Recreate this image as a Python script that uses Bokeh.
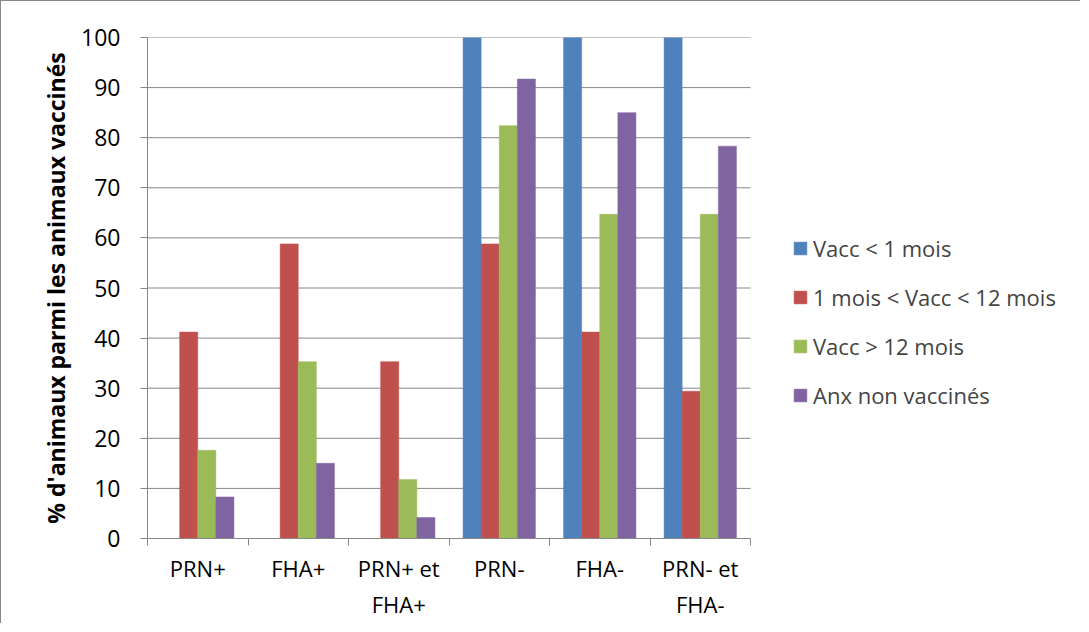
from bokeh.plotting import figure
from bokeh.models import (ColumnDataSource, Range1d, FixedTicker, Legend, LegendItem)
from bokeh.transform import dodge
from bokeh.embed import file_html
from bokeh.resources import INLINE

categories = ["PRN+", "FHA+", "PRN+ et\nFHA+", "PRN-", "FHA-", "PRN- et\nFHA-"]
series_names = ["Vacc < 1 mois", "1 mois < Vacc < 12 mois", "Vacc > 12 mois", "Anx non vaccinés"]
vacc_lt_1 = [0, 0, 0, 100, 100, 100]
vacc_1_12 = [41.2, 58.8, 35.3, 58.8, 41.2, 29.4]
vacc_gt_12 = [17.6, 35.3, 11.8, 82.4, 64.7, 64.7]
non_vacc = [8.3, 15.0, 4.2, 91.7, 85.0, 78.3]
y_ticks = [0, 10, 20, 30, 40, 50, 60, 70, 80, 90, 100]

colors = ["#4F81BD", "#C0504D", "#9BBB59", "#8064A2"]
FONT = "Open Sans"
GRID = "#868686"

W, H = 1080, 623
LEFT = 146
PLOT_W = 603          # pixel width of the category area
n = len(categories)
x_end = n * (W - LEFT) / PLOT_W   # frame extends to the right edge; room for legend

centers = [i + 0.5 for i in range(n)]
src = ColumnDataSource(dict(x=centers, s0=vacc_lt_1, s1=vacc_1_12, s2=vacc_gt_12, s3=non_vacc))

p = figure(width=W, height=H, output_backend="svg", toolbar_location=None,
           x_range=Range1d(0, x_end), y_range=Range1d(0, 100),
           min_border_left=LEFT, min_border_right=0, min_border_top=36, min_border_bottom=86)
p.styles = {"border-top": "1px solid #878787", "border-left": "1px solid #878787"}
p.outline_line_color = None
p.background_fill_color = "white"
p.border_fill_color = "white"

# horizontal gridlines over the category area only
p.xgrid.grid_line_color = None
p.ygrid.grid_line_color = None
p.segment(x0=[0] * len(y_ticks), x1=[n] * len(y_ticks), y0=y_ticks, y1=y_ticks,
          line_color=GRID, line_width=1)

bar_w = 0.18
offsets = [-0.27, -0.09, 0.09, 0.27]
items = []
for k in range(4):
    r = p.vbar(x=dodge("x", offsets[k], range=p.x_range), top="s%d" % k, width=bar_w,
               source=src, fill_color=colors[k], line_color=colors[k], line_width=0.5)
    items.append(LegendItem(label=series_names[k], renderers=[r]))

yax = p.yaxis[0]
yax.ticker = FixedTicker(ticks=y_ticks)
yax.axis_line_color = GRID
yax.major_tick_line_color = GRID
yax.major_tick_out = 7
yax.major_tick_in = 0
yax.minor_tick_line_color = None
yax.major_label_text_font = FONT
yax.major_label_text_font_size = "23px"
yax.major_label_text_color = "black"
yax.major_label_standoff = 20
yax.axis_label = "% d'animaux parmi les animaux vaccinés"
yax.axis_label_text_font = FONT
yax.axis_label_text_font_style = "bold"
yax.axis_label_text_font_size = "23px"
yax.axis_label_text_color = "black"
yax.axis_label_standoff = 6

xax = p.xaxis[0]
xax.bounds = (0, n)
xax.ticker = FixedTicker(ticks=centers, minor_ticks=[float(i) for i in range(n + 1)])
xax.major_label_overrides = {c: lab for c, lab in zip(centers, categories)}
xax.axis_line_color = GRID
xax.major_tick_out = 0
xax.major_tick_in = 0
xax.major_tick_line_color = None
xax.minor_tick_line_color = GRID
xax.minor_tick_out = 7
xax.minor_tick_in = 0
xax.major_label_text_font = FONT
xax.major_label_text_font_size = "22px"
xax.major_label_text_color = "black"
xax.major_label_standoff = 7

legend = Legend(items=items, location=(645, 128), padding=0, margin=0,
                border_line_color=None, background_fill_alpha=0,
                glyph_width=16, glyph_height=16, label_standoff=5,
                label_height=30, spacing=19,
                label_text_font=FONT, label_text_font_size="22px")
p.add_layout(legend, "center")

open("out.html", "w").write(file_html(p, INLINE))
